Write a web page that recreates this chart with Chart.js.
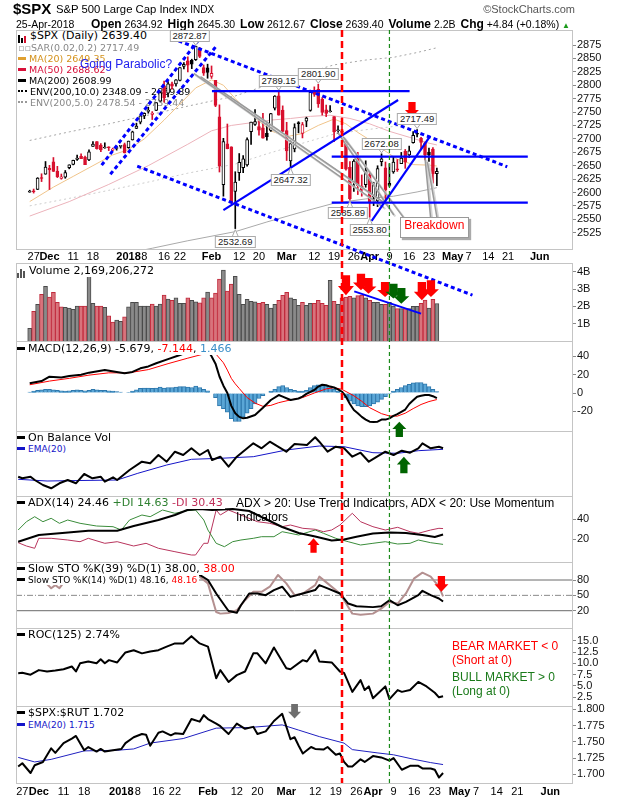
<!DOCTYPE html>
<html><head><meta charset="utf-8">
<script src="https://cdn.jsdelivr.net/npm/chart.js@4.4.1/dist/chart.umd.min.js"></script>
<style>
html,body{margin:0;padding:0;background:#fff}
#root{position:relative;width:620px;height:800px;overflow:hidden;font-family:"Liberation Sans",Arial,sans-serif;color:#000}
canvas{position:absolute;left:0}
.txt{position:absolute;white-space:nowrap;z-index:4}
.lg{position:absolute;left:17px;font-family:"DejaVu Sans",sans-serif;font-size:11px;line-height:12px;white-space:nowrap;background:#fff;padding-right:2px;z-index:3}
.lg.sm{font-size:9px;line-height:10px}
.ml{position:absolute;left:18px;font-family:"DejaVu Sans",sans-serif;font-size:9.5px;line-height:11px;white-space:nowrap;z-index:1}
.dash{display:inline-block;width:8px;height:3px;vertical-align:middle;margin-right:3px;position:relative;top:-1px}
.dot{display:inline-block;width:9px;height:0;vertical-align:middle;margin-right:3px;position:relative;top:-1px}
.vi{display:inline-block;height:10px;margin-right:3px;vertical-align:-1px}
.vi i{display:inline-block;width:2px;background:#555;margin-right:1px;vertical-align:bottom}
.pl{position:absolute;z-index:6;font:9.5px "Liberation Sans",Arial,sans-serif;background:#fff;border:1px solid #aaa;padding:0 2px;line-height:10px;transform:translate(-50%,-50%);color:#222;white-space:nowrap}
.hd b{font-size:12px;margin-left:5px}
.hd b:first-child{margin-left:0}
</style></head>
<body><div id="root"></div>
<script>
// ---------------- DATA ----------------
// x index 0 = 24-Nov-2017 ... 103 = 25-Apr-2018 (trading days); future days extend the axis
const tickIdx   = [1,5,11,16,25,29,34,38,46,53,58,65,72,77,82,86,91,96,101,107,111,116,121,129];
const tickLabels= ['27','Dec','11','18','2018','8','16','22','Feb','12','20','Mar','12','19','26','Apr','9','16','23','May','7','14','21','Jun'];
const boldTicks = ['Dec','2018','Feb','Mar','Apr','May','Jun'];

const opens=[2600.42,2602.66,2605.94,2627.82,2633.93,2645.10,2657.19,2639.78,2626.24,2628.38,2646.21,2652.19,2661.73,2667.59,2665.87,2660.63,2685.92,2694.95,2688.18,2683.02,2684.22,2679.09,2682.10,2686.10,2689.15,2683.73,2697.85,2719.31,2731.33,2742.67,2751.15,2745.55,2752.97,2770.18,2798.96,2784.99,2802.40,2802.60,2809.16,2835.05,2845.42,2846.24,2847.48,2867.23,2832.74,2832.41,2816.45,2808.92,2741.06,2614.78,2690.95,2685.01,2601.78,2636.75,2646.27,2651.21,2713.46,2727.14,2722.99,2720.53,2710.42,2715.80,2757.37,2780.45,2753.78,2715.22,2658.89,2681.06,2730.18,2710.18,2732.75,2752.91,2790.54,2792.31,2774.06,2754.27,2750.57,2741.38,2715.05,2714.99,2691.36,2646.71,2619.35,2667.57,2611.30,2614.41,2633.45,2592.17,2584.04,2657.36,2645.82,2617.18,2638.41,2643.89,2653.83,2676.90,2670.10,2692.74,2710.11,2701.16,2692.56,2675.40,2680.80,2634.92];
const highs=[2604.21,2606.41,2627.69,2634.89,2657.74,2650.62,2665.19,2648.72,2634.41,2640.99,2651.65,2660.33,2669.72,2671.88,2668.09,2679.63,2694.97,2695.14,2691.01,2692.64,2685.35,2682.74,2685.64,2687.66,2692.12,2695.89,2714.37,2729.29,2743.45,2748.51,2759.14,2750.80,2767.56,2787.85,2807.54,2807.04,2805.83,2810.33,2833.03,2842.24,2852.97,2848.56,2872.87,2870.62,2837.75,2839.26,2835.96,2808.92,2763.39,2701.04,2727.67,2685.27,2638.67,2672.61,2668.84,2702.10,2731.51,2754.42,2737.60,2747.75,2731.26,2747.76,2780.64,2789.15,2761.52,2730.89,2696.25,2728.09,2732.08,2730.60,2740.45,2786.57,2796.98,2801.90,2777.11,2763.03,2761.85,2741.38,2724.22,2739.14,2695.68,2657.67,2661.36,2674.78,2632.65,2659.07,2638.30,2619.14,2649.86,2672.08,2656.88,2653.55,2665.45,2661.43,2674.72,2680.26,2686.49,2713.34,2717.49,2702.84,2693.94,2682.86,2683.55,2645.30];
const lows=[2600.42,2598.87,2605.44,2620.32,2633.93,2605.52,2639.03,2627.73,2624.75,2626.53,2644.10,2651.47,2659.78,2662.85,2652.01,2659.14,2685.92,2680.74,2676.11,2682.40,2678.13,2677.96,2678.91,2682.69,2673.61,2682.36,2697.77,2719.07,2727.92,2737.60,2747.86,2736.06,2752.78,2769.64,2768.64,2778.38,2792.56,2798.08,2808.12,2830.59,2824.81,2830.94,2846.18,2851.48,2818.27,2813.04,2812.70,2759.97,2638.17,2593.07,2681.33,2580.56,2532.69,2622.45,2637.08,2648.87,2689.82,2725.11,2706.76,2701.29,2697.77,2713.74,2753.78,2744.22,2713.54,2659.65,2647.32,2675.75,2711.26,2701.74,2722.65,2751.54,2779.26,2758.68,2744.38,2741.47,2749.97,2694.59,2710.05,2709.79,2641.59,2585.89,2601.81,2596.12,2593.06,2609.72,2553.80,2575.49,2573.61,2649.58,2586.27,2610.79,2635.78,2639.25,2653.83,2645.05,2665.16,2692.05,2703.63,2681.90,2660.61,2657.99,2617.32,2612.67];
const closes=[2602.42,2601.42,2627.04,2626.07,2647.58,2642.22,2639.44,2629.57,2629.27,2636.98,2651.50,2659.99,2664.11,2662.85,2652.01,2675.81,2690.16,2681.47,2679.25,2684.57,2683.34,2680.50,2682.62,2687.54,2673.61,2695.81,2713.06,2723.99,2743.15,2747.71,2751.29,2748.23,2767.56,2786.24,2776.42,2802.56,2798.03,2810.30,2832.97,2839.13,2837.54,2839.25,2872.87,2853.53,2822.43,2823.81,2821.98,2762.13,2648.94,2695.14,2681.66,2581.00,2619.55,2656.00,2662.94,2698.63,2731.20,2732.22,2716.26,2701.33,2703.96,2747.30,2779.60,2744.28,2713.83,2677.67,2691.25,2720.94,2728.12,2726.80,2738.97,2786.57,2783.02,2765.31,2749.48,2747.33,2752.01,2712.92,2716.94,2711.93,2643.69,2588.26,2658.55,2612.62,2605.00,2640.87,2581.88,2614.45,2644.69,2662.84,2604.47,2613.16,2656.87,2642.19,2663.99,2656.30,2677.84,2706.39,2708.64,2693.13,2670.14,2670.29,2634.56,2639.40];
const prevClose0 = 2597.08;
// volume in billions
const volumes=[0.73,1.72,2.12,2.70,3.16,2.54,2.81,2.24,1.97,1.95,1.91,1.83,2.02,2.02,2.02,3.76,2.18,2.02,2.02,1.95,1.45,1.10,1.21,1.13,1.39,1.97,2.24,2.24,2.02,2.02,2.02,2.13,2.02,2.13,2.66,2.43,2.35,2.49,2.18,2.18,2.49,2.35,2.26,2.20,2.49,2.83,2.49,2.77,3.58,4.10,2.89,3.29,3.74,2.70,2.12,2.41,2.29,2.26,2.18,2.24,2.12,1.91,2.12,2.35,2.64,2.81,2.49,2.41,2.06,2.24,2.06,2.18,2.18,2.35,2.18,2.06,3.51,2.29,2.12,2.49,2.54,2.58,2.49,2.62,2.66,2.49,2.35,2.24,2.24,2.12,2.12,2.24,2.02,1.87,1.87,1.87,1.87,2.00,2.00,2.18,2.37,1.91,2.41,2.17];

const ma20=[[0,2583],[6,2610],[11,2630],[16,2650],[21,2670],[25,2680],[29,2700],[34,2735],[38,2765],[42,2795],[46,2810],[49,2800],[52,2775],[56,2745],[61,2715],[65,2704],[69,2710],[73,2725],[77,2737],[80,2728],[83,2712],[86,2698],[89,2682],[93,2662],[97,2652],[101,2651],[103,2649.35]];
const ma50=[[0,2556],[10,2583],[20,2615],[30,2650],[40,2690],[46,2715],[51,2725],[56,2730],[61,2735],[66,2738],[71,2742],[76,2744],[81,2738],[86,2728],[91,2714],[96,2703],[101,2692],[103,2688.62]];
const ma200=[[0,2452],[10,2466],[20,2480],[31,2496],[40,2510],[52,2527],[60,2545],[70,2566],[77,2580],[85,2588],[92,2593],[98,2601],[103,2608.99]];
const env10Up=[[0,2697],[10,2713],[20,2728],[31,2746],[40,2761],[52,2780],[60,2800],[70,2823],[77,2838],[85,2847],[92,2852],[98,2861],[103,2869.89]];
const env5Up=[[0,2575],[10,2589],[20,2604],[31,2621],[40,2636],[52,2653],[60,2672],[70,2694],[77,2709],[85,2717],[92,2723],[98,2731],[103,2739.44]];

const macdLine=[[0,10.6],[3,13],[5,17.8],[8,17],[10,18.5],[13,20],[15,22.2],[19,25],[22,23],[24,21.5],[26,23],[28,26.9],[30,29],[32,32.4],[35,37],[38,41.4],[40,45],[42,50],[44,50],[45,47],[46,40],[47,32],[48,18],[49,8],[50,0],[51,-14],[52,-22],[53,-26],[54,-27.6],[55,-27],[57,-24],[59,-16],[61,-7.6],[63,-2.2],[64,-4],[66,-7.6],[68,-6],[69,-4],[70,-1],[72,3.3],[73,7],[74,9],[75,8.5],[76,7],[77,6],[78,4],[79,1.4],[80,-4],[81,-12],[82,-18.5],[83,-22],[84,-26],[85,-29],[86,-31.3],[87,-31.5],[88,-31.3],[89,-29],[90,-29],[91,-27.6],[92,-25],[93,-23],[94,-20.5],[95,-18],[96,-12],[97,-8],[98,-4],[99,-3],[100,-2.2],[101,-2.2],[102,-3.5],[103,-5.679]];
const macdSignal=[[0,9],[5,13],[10,16],[15,19.5],[20,22],[25,22],[30,25.5],[35,32],[40,38],[44,42.5],[47,43],[49,33],[50,25],[51,16],[52,10],[53,5],[54,0],[55,-5],[57,-11],[59,-14.5],[61,-13.5],[63,-10.5],[66,-7.5],[69,-5],[72,0],[75,4.5],[77,5.8],[79,4],[82,-3],[84,-9],[86,-16],[89,-22.5],[91,-25],[93,-25.2],[95,-22],[97,-17],[99,-12.5],[101,-9.3],[103,-7.144]];
const macdHist=[1,2,3,3.5,4, 4,3.5,3,2.5,2, 2.5,3,3.5,3,2.5, 3,4,3.5,3,3, 2.5,2,1.5,1,0, 0.5,2,3.5,5,5.5, 5.5,5,5.5,6.5,5.5, 6,6,6.5,7,7, 6.5,6,7.5,6,4, 2.5,0,-5,-14,-17, -21,-28,-31,-31,-26, -22,-17,-12,-6,-3, 0,2,4,7,8, 6,4,3,2,2, 3,6,8,9,9, 8,6,4,2,-1, -5,-9,-12,-14,-15, -15,-14,-12,-10,-7, -4,-1,2,4,6, 8,9.5,11,11.5,11.5, 10,7,4,1.466];

const obv=[[0,19.3],[1,17.7],[3,19.3],[4,16],[6,11],[8,7.7],[10,12.7],[12,16],[14,12.7],[16,22],[18,17.7],[20,19.3],[21,14.3],[23,18.7],[24,16],[27,26],[30,34.3],[32,32.7],[34,41],[36,34.3],[38,44.3],[40,41],[42,47.7],[44,41],[46,46],[47,36],[49,39.3],[51,29.3],[53,39.3],[55,46],[57,52.7],[59,47.7],[61,54.3],[63,49.3],[65,44.3],[67,52],[70,51],[72,58.7],[73,54.3],[75,44.3],[77,49.3],[79,47.7],[81,39.3],[83,43.3],[85,34.3],[87,39.3],[89,44.3],[91,41],[93,45.3],[95,43.3],[97,47.7],[98,52.7],[100,47.7],[102,49.3],[103,47.7]];
const obvEma=[[0,16.7],[7,15],[15,15.5],[24,16],[29,22.7],[36,31],[42,36.7],[49,37.7],[57,39.3],[65,46],[73,50],[79,49.3],[86,43.3],[92,42.7],[97,45.3],[103,46.7]];

const adx=[[0,17.3],[5,24],[10,25.7],[17,28.3],[24,28.3],[28,33],[34,39],[38,44],[41,49],[44,50],[47,49],[52,50],[56,48],[60,40],[64,32],[68,26],[72,22.5],[76,18.5],[79,19.5],[82,22.3],[86,25.5],[90,26.5],[94,26],[98,24],[101,22],[103,24.46]];
const plusDI=[[0,29],[2,37.3],[4,42.3],[6,37.3],[8,40.7],[10,35.7],[12,39],[15,35.7],[19,33],[23,32.3],[25,29],[27,39],[30,44],[32,42.3],[35,49],[38,45.7],[41,48.3],[43,49],[45,39],[46,29],[48,15.7],[50,12.3],[52,17.3],[54,19],[57,20.7],[59,22.3],[62,22.3],[64,27.3],[68,24],[72,29],[74,25.7],[77,20.7],[80,17.3],[83,14],[86,15.7],[89,17.3],[92,15],[95,15.7],[97,19],[100,16.3],[103,14.63]];
const minusDI=[[0,16.3],[2,13],[4,10.7],[5,20.7],[8,20.7],[12,19],[15,17.3],[17,20.7],[21,15.7],[24,17.3],[28,13],[31,15.7],[34,10.7],[38,7.3],[42,4],[43,4],[45,15.7],[46,15.7],[48,49],[49,44],[51,49],[55,42.3],[58,37.3],[61,35.7],[64,32.3],[66,34],[69,30.7],[72,29.7],[74,27.3],[76,29],[78,34],[81,45.7],[83,37.3],[86,32.3],[89,29],[92,31.7],[95,27.3],[97,25.7],[100,29],[102,30.7],[103,30.43]];

const sto39=[[0,88],[6,80],[10,85],[16,92],[20,90],[25,92],[30,95],[35,96],[40,97],[44,90],[46,80],[48,53.7],[50,30.7],[51,19.5],[53,16.2],[54,30.7],[56,53.7],[58,53.7],[60,50.4],[62,60.3],[64,66.9],[66,47],[69,53.7],[72,60.3],[73,70.1],[75,63.6],[78,53.7],[80,34],[82,28.7],[86,27],[88,28.7],[90,40.5],[92,30.7],[94,37.2],[97,50.4],[98,58.9],[100,50.4],[102,43.9],[103,38]];
const sto14=[[0,90],[3,95],[5,88],[7,72],[8,64],[9,70],[10,64],[11,75],[13,88],[16,95],[19,85],[22,88],[25,84],[29,96],[34,92],[38,97],[42,96],[44,86.6],[46,73.4],[48,17.5],[49,14.3],[51,15.6],[53,20.8],[55,40.5],[57,57],[59,57],[61,66.9],[63,89.9],[65,73.4],[67,50.4],[69,53.7],[72,70.1],[73,86.6],[75,73.4],[78,53.7],[81,14.3],[83,12.3],[86,14.3],[88,24.1],[90,37.2],[92,34],[94,53.7],[96,83.3],[98,94.4],[100,86.6],[102,66.9],[103,48.16]];
const stoLevels=[80,50,20];

const roc=[[0,7.8],[1,7.9],[3,7.5],[5,8.5],[7,8.2],[9,8.4],[11,8.7],[13,9.3],[14,8.2],[15,10],[17,10.4],[19,10],[20,10.9],[21,10],[22,10.7],[24,10.2],[26,12.4],[28,12.9],[30,12.2],[32,12.6],[34,12.9],[36,13.7],[38,14.4],[40,14.4],[42,16],[44,14.4],[46,13.7],[48,6.7],[49,8.5],[51,5.9],[53,7.4],[55,8.2],[57,12.2],[58,12.2],[60,10],[62,13.5],[65,8.9],[66,8.7],[69,10.7],[70,10.4],[72,12.9],[73,10.4],[76,10.2],[78,8.2],[79,7.9],[81,3.7],[83,6.3],[84,4.1],[85,4.9],[86,2.3],[89,4.9],[90,2.1],[92,4.1],[93,3.7],[95,4.1],[97,5.9],[99,4.9],[101,3.5],[102,2.5],[103,2.74]];

const ratio=[[0,1.712],[1,1.717],[3,1.702],[4,1.714],[6,1.719],[8,1.740],[9,1.733],[11,1.748],[13,1.755],[14,1.759],[16,1.737],[17,1.742],[19,1.735],[20,1.739],[21,1.735],[23,1.737],[25,1.739],[26,1.748],[28,1.757],[30,1.762],[31,1.761],[32,1.744],[34,1.764],[35,1.766],[37,1.760],[38,1.763],[40,1.762],[42,1.785],[44,1.781],[45,1.791],[46,1.785],[48,1.778],[49,1.774],[51,1.762],[53,1.778],[55,1.770],[57,1.773],[58,1.762],[60,1.766],[62,1.782],[64,1.793],[66,1.754],[67,1.757],[68,1.744],[69,1.732],[71,1.742],[72,1.739],[74,1.738],[75,1.742],[77,1.730],[78,1.732],[79,1.719],[80,1.712],[81,1.712],[83,1.723],[84,1.719],[86,1.728],[88,1.726],[90,1.721],[91,1.725],[93,1.707],[95,1.713],[97,1.713],[98,1.709],[100,1.709],[101,1.707],[102,1.695],[103,1.702]];
const ratioEma=[[0,1.726],[4,1.719],[8,1.723],[16,1.736],[24,1.737],[28,1.739],[32,1.748],[40,1.755],[48,1.771],[56,1.772],[64,1.776],[68,1.768],[73,1.758],[79,1.748],[81,1.738],[87,1.733],[91,1.730],[96,1.723],[100,1.718],[103,1.715]];

const mainYTicks=[2525,2550,2575,2600,2625,2650,2675,2700,2725,2750,2775,2800,2825,2850,2875];
const volYTicks=[1,2,3,4];
const macdYTicks=[-20,0,20,40];
const adxYTicks=[20,40];
const stoYTicks=[20,50,80];
const rocYTicks=[2.5,5,7.5,10,12.5,15];
const ratioYTicks=[1.7,1.725,1.75,1.775,1.8];

// annotations in data coordinates [index, value]
const bearDay=79, bullDay=91;
const dottedLines=[[[18.2,2651],[43.1,2888]],[[20.4,2634],[47,2871]],[[36,2887.5],[120.8,2648]],[[27.2,2649],[112,2408.6]]];
const solidLines=[[[46.1,2789],[96.1,2789]],[[49,2567],[93.2,2772.4]],[[86.5,2547],[101.3,2705]],[[76.4,2667],[126,2667]],[[76.4,2581],[126,2581]]];
const calloutPtrs=[[[43.2,2816],[90.6,2576.5]],[[41.5,2822],[89.6,2572]],[[77.8,2713],[92.1,2558]],[[79.3,2704],[94.5,2554]],[[100,2663.6],[101.4,2554]],[[100.6,2657],[103,2554]]];
const calloutBox={i0:93.7,i1:110.5,v0:2554.6,v1:2519.7,text:'Breakdown'};
const peakLabels=[{i:42,hi:true,dx:-6},{i:63,hi:true,dx:0},{i:73,hi:true,dx:0},{i:98,hi:true,dx:0},{i:89,hi:true,dx:0},{i:66,hi:false,dx:0},{i:81,hi:false,dx:-2},{i:86,hi:false,dx:0},{i:52,hi:false,dx:0}];
const volTrend=[[82.1,2.87],[99,1.58]];
const mainArrows=[{i:96.7,a:2768.7,b:2740.7,c:'#ff0000',w:14}];
const volArrows=[{i:80,a:3.80,b:2.64,c:'#ff0000'},{i:83.8,a:3.89,b:2.93,c:'#ff0000'},{i:85.7,a:3.64,b:2.73,c:'#ff0000'},{i:89.9,a:3.41,b:2.54,c:'#ff0000'},{i:92,a:3.31,b:2.45,c:'#006400'},{i:94,a:3.06,b:2.16,c:'#006400'},{i:99.2,a:3.41,b:2.35,c:'#ff0000'},{i:101.5,a:3.51,b:2.54,c:'#ff0000'}];
const macdArrows=[{i:93.5,a:-48,b:-31.3,c:'#006400',w:14}];
const obvArrows=[{i:93.5,a:22.7,b:39.3,c:'#006400',w:14}];
const adxArrows=[{i:71.6,a:6.3,b:20.7,c:'#ff0000',w:12}];
const stoArrows=[{i:102.6,a:87.9,b:56.9,c:'#ff0000',w:14}];
const ratioArrows=[{i:67,a:1.808,b:1.786,c:'#6e6e6e',w:13}];

// ---------------- RENDER ----------------
const root=document.getElementById('root');
const X_MIN=-0.53, X_MAX=134.5;
const RED='#d8102e', BLK='#000';
const pts=a=>a.map(p=>({x:p[0],y:p[1]}));
const L=(a,color,w,dash,order)=>({type:'line',data:pts(a),borderColor:color,borderWidth:w,borderDash:dash||[],pointRadius:0,tension:0,fill:false,order:order||0,borderJoinStyle:'round'});
const frame={id:'frame',afterDraw(c){const a=c.chartArea,x=c.ctx;x.save();x.strokeStyle='#c4c4c4';x.lineWidth=1;x.strokeRect(Math.round(a.left)+0.5,Math.round(a.top)+0.5,Math.round(a.right-a.left)-1,Math.round(a.bottom-a.top));x.restore();}};

function panel(top,h,pad,xAxisH,yMin,yMax,yTicks,yFmt,datasets,z){
  const cv=document.createElement('canvas');cv.width=620;cv.height=h;cv.style.top=top+'px';cv.style.zIndex=z||1;root.appendChild(cv);
  const ch=new Chart(cv,{type:'line',data:{datasets},options:{
    responsive:false,animation:false,events:[],
    layout:{padding:{left:16,right:0,top:pad,bottom:0}},
    plugins:{legend:{display:false},tooltip:{enabled:false}},
    scales:{
      x:{type:'linear',min:X_MIN,max:X_MAX,display:xAxisH>0,
        afterBuildTicks:a=>{a.ticks=tickIdx.map(v=>({value:v}));},
        afterFit:a=>{a.height=xAxisH;a.paddingLeft=0;a.paddingRight=0;},
        grid:{display:false,drawTicks:false},border:{display:false},
        ticks:{autoSkip:false,maxRotation:0,minRotation:0,padding:xAxisH>15?2.5:1,color:'#000',
          font:c=>({family:'Liberation Sans',size:11,weight:boldTicks.includes(tickLabels[c.index])?'bold':'normal'}),
          callback:(v,i)=>tickLabels[i]}},
      y:{type:'linear',position:'right',min:yMin,max:yMax,
        afterBuildTicks:a=>{a.ticks=yTicks.map(v=>({value:v}));},
        afterFit:a=>{a.width=47;a.paddingTop=0;a.paddingBottom=0;},
        grid:{drawOnChartArea:false,drawTicks:true,tickLength:3,color:'#888'},border:{display:false},
        ticks:{autoSkip:false,padding:1,color:'#111',font:{family:'Liberation Sans',size:11},callback:yFmt}}
    }},plugins:[frame]});
  ch.$top=top;return ch;
}

const candleCol=closes.map((c,i)=>c<(i>0?closes[i-1]:prevClose0)?RED:BLK);
const bodyFill=closes.map((c,i)=>c>=opens[i]?'#fff':candleCol[i]);
const mainCh=panel(0,263,30,14,2494.6,2903,mainYTicks,v=>String(v),[
  {type:'bar',data:closes.map((c,i)=>({x:i,y:[opens[i],c]})),backgroundColor:bodyFill,borderColor:candleCol,borderWidth:1,borderSkipped:false,barThickness:3,grouped:false,minBarLength:1,order:0},
  {type:'bar',data:closes.map((c,i)=>({x:i,y:[lows[i],highs[i]]})),backgroundColor:candleCol,barThickness:1,grouped:false,order:1},
  L(ma20,'#f0c48a',1,null,2),L(ma50,'#ecb3bb',1,null,3),L(ma200,'#aaaaaa',1,null,4),
  L(env5Up,'#cccccc',1,[2,3],5),L(env10Up,'#a4a4a4',1,[2,3],6)
],2);

const volUp=closes.map((c,i)=>!(c<(i>0?closes[i-1]:prevClose0)));
const volCh=panel(255,86,8,0,0,4.509,volYTicks,v=>v+'B',[
  {type:'bar',data:volumes.map((v,i)=>({x:i,y:v})),backgroundColor:volUp.map(u=>u?'#8a8a8a':'#d8737c'),borderColor:volUp.map(u=>u?'#4a4a4a':'#c12a3c'),borderWidth:1,barThickness:4,grouped:false}
]);
const macdCh=panel(333,98,8,0,-41.4,56.7,macdYTicks,v=>String(v),[
  L(macdLine,'#000',2,null,0),L(macdSignal,'#ff0000',1,null,1),
  {type:'bar',data:macdHist.map((v,i)=>({x:i,y:v})),backgroundColor:'#5aa6d6',borderColor:'#2e78ad',borderWidth:1,barThickness:4,grouped:false,order:2}
]);
const obvCh=panel(423,73,8,0,0,65,[],v=>'',[L(obv,'#000',2,null,0),L(obvEma,'#1414c8',1,null,1)]);
const adxCh=panel(488,74,8,0,-3,63,adxYTicks,v=>String(v),[L(adx,'#000',2,null,0),L(plusDI,'#3a8c3a',1,null,1),L(minusDI,'#b8345c',1,null,2)]);
const stoCh=panel(554,74,8,0,-13.8,115.2,stoYTicks,v=>String(v),[
  L(sto39,'#000',2,null,0),L(sto14,'#b49090',2,null,1),
  L([[X_MIN,stoLevels[0]],[X_MAX,stoLevels[0]]],'#6a6a6a',1,null,3),
  L([[X_MIN,stoLevels[1]],[X_MAX,stoLevels[1]]],'#8a8a8a',1,[6,2,1,2],3),
  L([[X_MIN,stoLevels[2]],[X_MAX,stoLevels[2]]],'#6a6a6a',1,null,3)
]);
const rocCh=panel(620,86,8,0,0.579,17.8,rocYTicks,v=>v.toFixed(1),[L(roc,'#000',2,null,0)]);
const ratioCh=panel(698,102,8,17,1.68662,1.80508,ratioYTicks,v=>v.toFixed(3),[L(ratio,'#000',2,null,0),L(ratioEma,'#2020c0',1,null,1)]);

// ---------- text ----------
function div(html,style,cls){const d=document.createElement('div');d.className=cls||'txt';d.innerHTML=html;Object.assign(d.style,style);root.appendChild(d);return d;}
const n=closes.length-1, chg=closes[n]-closes[n-1];
div('$SPX',{left:'13px',top:'0px',font:'bold 15px "Liberation Sans",Arial'});
div('S&amp;P 500 Large Cap Index <span style="font-size:10px">INDX</span>',{left:'56px',top:'3px',font:'11.3px "Liberation Sans",Arial'});
div('©StockCharts.com',{right:'45px',top:'3px',font:'11px "Liberation Sans",Arial',color:'#555'});
div('25-Apr-2018',{left:'16px',top:'18px',font:'10.5px "Liberation Sans",Arial'});
div('<b>Open</b> '+opens[n].toFixed(2)+'<b>High</b> '+highs[n].toFixed(2)+'<b>Low</b> '+lows[n].toFixed(2)+'<b>Close</b> '+closes[n].toFixed(2)+'<b>Volume</b> '+volumes[n].toFixed(1)+'B<b>Chg</b> +'+chg.toFixed(2)+' (+'+(chg/closes[n-1]*100).toFixed(2)+'%) <span style="color:#1a9a1a;font-size:8px">▲</span>',{left:'91px',top:'17px',font:'10.5px "Liberation Sans",Arial'},'txt hd');

// main legend (under the price canvas)
const candleIcon='<span class="vi"><i style="height:8px;background:#000"></i><i style="height:5px;background:#000"></i><i style="height:7px;background:#d8102e"></i></span>';
div(candleIcon+'$SPX (Daily) 2639.40',{top:'30px',fontSize:'11px',lineHeight:'12px'},'ml');
const mlines=[
 ['<span style="color:#999">▫▫</span>SAR(0.02,0.2) 2717.49','#888'],
 ['<span class="dash" style="background:#e0a030"></span>MA(20) 2649.35','#d4921c'],
 ['<span class="dash" style="background:#d8103a"></span>MA(50) 2688.62','#d8103a'],
 ['<span class="dash" style="background:#000"></span>MA(200) 2608.99','#000'],
 ['<span class="dot" style="border-top:2px dotted #000"></span>ENV(200,10.0) 2348.09 - 2869.89','#000'],
 ['<span class="dot" style="border-top:2px dotted #999"></span>ENV(200,5.0) 2478.54 - 2739.44','#888']];
mlines.forEach((m,k)=>div(m[0],{top:(42+k*10.9)+'px',color:m[1]},'ml'));
div('Going Parabolic?',{left:'80px',top:'57px',font:'12px "Liberation Sans",Arial',color:'#2020ee'});

// lower legends
const dash=c=>'<span class="dash" style="background:'+c+'"></span>';
div('<span class="vi"><i style="height:5px"></i><i style="height:9px"></i><i style="height:7px"></i></span>Volume 2,169,206,272',{top:'265px'},'lg');
div(dash('#000')+'MACD(12,26,9) -5.679, <span style="color:#ff0000">-7.144</span>, <span style="color:#3a8ec8">1.466</span>',{top:'343px'},'lg');
div(dash('#000')+'On Balance Vol',{top:'432px'},'lg');
div(dash('#1414c8')+'<span style="color:#1414c8">EMA(20)</span>',{top:'444px'},'lg sm');
div(dash('#000')+'ADX(14) 24.46 <span style="color:#2e8030">+DI 14.63</span> <span style="color:#c0305a">-DI 30.43</span>',{top:'497px'},'lg');
div('ADX &gt; 20: Use Trend Indicators, ADX &lt; 20: Use Momentum<br>Indicators',{left:'236px',top:'496px',font:'12px "Liberation Sans",Arial',lineHeight:'14px'});
div(dash('#000')+'Slow STO %K(39) %D(1) 38.00, <span style="color:#ff0000">38.00</span>',{top:'563px'},'lg');
div(dash('#000')+'Slow STO %K(14) %D(1) 48.16, <span style="color:#ff0000">48.16</span>',{top:'575px'},'lg sm');
div(dash('#000')+'ROC(125) 2.74%',{top:'629px'},'lg');
div('<span style="color:#ff0000">BEAR MARKET &lt; 0<br>(Short at 0)</span>',{left:'452px',top:'640px',font:'12px "Liberation Sans",Arial',lineHeight:'13.5px'});
div('<span style="color:#1a7a1a">BULL MARKET &gt; 0<br>(Long at 0)</span>',{left:'452px',top:'671px',font:'12px "Liberation Sans",Arial',lineHeight:'13.5px'});
div(dash('#000')+'$SPX:$RUT 1.702',{top:'707px'},'lg');
div(dash('#1414c8')+'<span style="color:#1414c8">EMA(20) 1.715</span>',{top:'720px'},'lg sm');

// ---------- overlays ----------
function overlay(z){const c=document.createElement('canvas');c.width=620;c.height=800;c.style.top='0px';c.style.zIndex=z;root.appendChild(c);return c.getContext('2d');}
const P=(ch,i,v)=>[ch.scales.x.getPixelForValue(i),ch.$top+ch.scales.y.getPixelForValue(v)];
function seg(ctx,a,b,color,w,dash){ctx.save();ctx.beginPath();ctx.strokeStyle=color;ctx.lineWidth=w;ctx.setLineDash(dash||[]);ctx.moveTo(a[0],a[1]);ctx.lineTo(b[0],b[1]);ctx.stroke();ctx.restore();}
function arrow(ctx,x,yT,yP,w,color){const d=yP>yT?1:-1,Ln=Math.abs(yP-yT),hl=Ln*0.47,sw=w*0.52,yN=yP-d*hl;
  ctx.save();ctx.beginPath();ctx.moveTo(x-sw/2,yT);ctx.lineTo(x-sw/2,yN);ctx.lineTo(x-w/2,yN);ctx.lineTo(x,yP);ctx.lineTo(x+w/2,yN);ctx.lineTo(x+sw/2,yN);ctx.lineTo(x+sw/2,yT);ctx.closePath();ctx.fillStyle=color;ctx.fill();ctx.restore();}
const A=overlay(5);
A.lineCap='butt';
calloutPtrs.forEach(p=>{const a=P(mainCh,p[0][0],p[0][1]),b=P(mainCh,p[1][0],p[1][1]);
  seg(A,[a[0]+1.5,a[1]+1.5],[b[0]+1.5,b[1]+1.5],'#d4d4d4',2);seg(A,a,b,'#9a9a9a',1.5);});
dottedLines.forEach(l=>seg(A,P(mainCh,l[0][0],l[0][1]),P(mainCh,l[1][0],l[1][1]),'#0000ff',3,[4,3]));
solidLines.forEach(l=>seg(A,P(mainCh,l[0][0],l[0][1]),P(mainCh,l[1][0],l[1][1]),'#0000ff',2.2));
seg(A,P(volCh,volTrend[0][0],volTrend[0][1]),P(volCh,volTrend[1][0],volTrend[1][1]),'#0000ff',2);
const drawArrows=(ch,list,wd)=>list.forEach(r=>{const t=P(ch,r.i,r.a),h=P(ch,r.i,r.b);arrow(A,t[0],t[1],h[1],r.w||wd,r.c);});
drawArrows(mainCh,mainArrows,14);drawArrows(volCh,volArrows,16);drawArrows(macdCh,macdArrows,14);drawArrows(obvCh,obvArrows,14);
drawArrows(adxCh,adxArrows,12);drawArrows(stoCh,stoArrows,14);drawArrows(ratioCh,ratioArrows,13);

// peak / trough labels
peakLabels.forEach(l=>{const v=l.hi?highs[l.i]:lows[l.i];const p=P(mainCh,l.i,v);const cy=l.hi?p[1]-10:p[1]+13;
  A.save();A.beginPath();const by=l.hi?cy+5:cy-5;A.moveTo(p[0]-3,by);A.lineTo(p[0]+3,by);A.lineTo(p[0],l.hi?p[1]-1:p[1]+1);A.closePath();A.fillStyle='#fff';A.fill();A.strokeStyle='#aaa';A.stroke();A.restore();
  div(v.toFixed(2),{left:(p[0]+l.dx)+'px',top:cy+'px'},'pl');});
// callout box
{const a=P(mainCh,calloutBox.i0,calloutBox.v0),b=P(mainCh,calloutBox.i1,calloutBox.v1);
 div(calloutBox.text,{left:a[0]+'px',top:a[1]+'px',width:(b[0]-a[0])+'px',height:(b[1]-a[1])+'px',lineHeight:(b[1]-a[1])+'px',textAlign:'center',background:'#fff',border:'1px solid #999',boxShadow:'2px 2px 1px #aaa',color:'#ff0000',font:'12px "Liberation Sans",Arial',zIndex:6});}

// vertical marker lines across all panels
const B=overlay(8);
const yTop=mainCh.$top+mainCh.chartArea.top, yBot=ratioCh.$top+ratioCh.chartArea.bottom;
const xb=mainCh.scales.x.getPixelForValue(bearDay), xg=mainCh.scales.x.getPixelForValue(bullDay);
seg(B,[xb,yTop],[xb,yBot],'#ff0000',2.5,[7,4]);
seg(B,[xg,yTop],[xg,yBot],'#1a8a1a',1.2,[4,3]);
</script></body></html>
